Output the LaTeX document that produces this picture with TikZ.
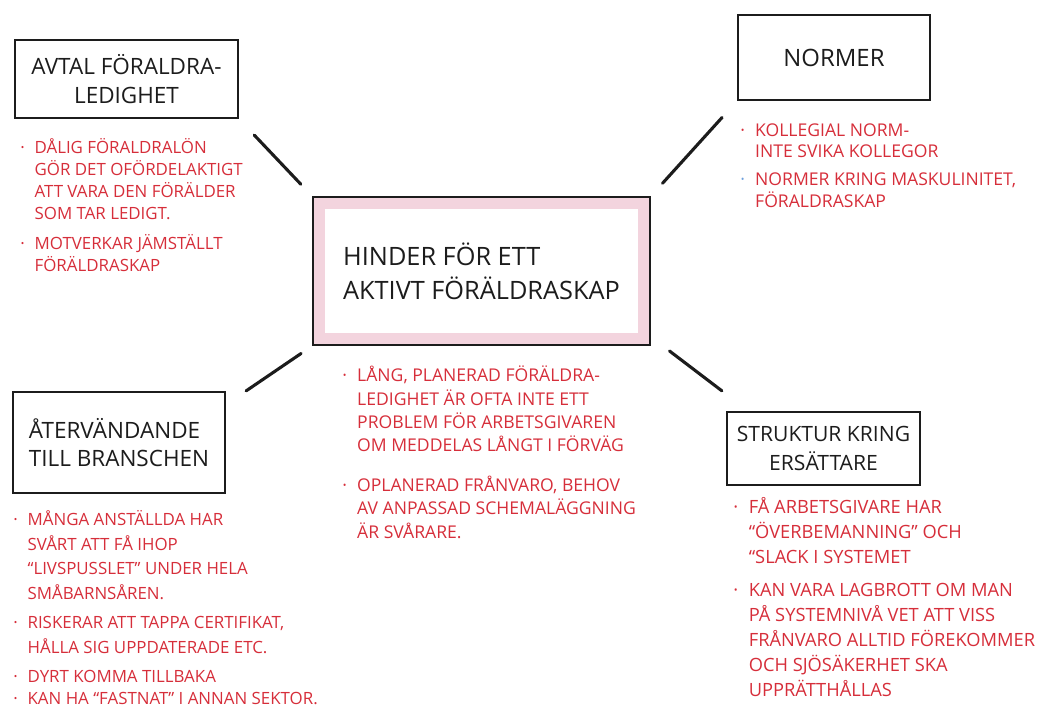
\documentclass[tikz,border=0pt]{standalone}
\usepackage{fontspec}
\setmainfont{Open Sans}
\newdimen\pxu \pxu=0.025cm
\definecolor{ink}{RGB}{28,28,28}
\definecolor{inkred}{RGB}{214,46,58}
\definecolor{pinkband}{RGB}{243,212,222}
\definecolor{dotblue}{RGB}{110,160,220}
\newcommand{\bul}{\makebox[0.85em][l]{·}}
\newcommand{\bluebul}{\makebox[0.85em][l]{\textcolor{dotblue}{·}}}
\newcommand{\ind}{\hspace*{0.85em}}
\tikzset{
  titlebox/.style={draw=ink, line width=1.6pt, text=ink, inner sep=0pt, font=\fontsize{15}{20}\selectfont},
  notes/.style={text=inkred, anchor=north west, align=left, inner sep=0pt},
  link/.style={draw=ink, line width=2.2pt, line cap=round}
}
\begin{document}
\begin{tikzpicture}[x=0.025cm, y=-0.025cm]
    \useasboundingbox (0,0) rectangle (1058,713);

    %hinder
    \node[titlebox, fill=white, minimum width=337\pxu, minimum height=148\pxu, align=left, font=\fontsize{18}{24}\selectfont,
        path picture={\draw[pinkband, line width=24\pxu] (path picture bounding box.south west) rectangle (path picture bounding box.north east);}]
        (hinder) at (481.5,271) {HINDER FÖR ETT\\AKTIVT FÖRÄLDRASKAP};

    %boxes
    \node[titlebox, minimum width=223\pxu, minimum height=78\pxu, align=center, font=\fontsize{16}{20}\selectfont] (avtal) at (126.5,79) {AVTAL FÖRALDRA-\\LEDIGHET};
    \node[titlebox, minimum width=192\pxu, minimum height=85\pxu, font=\fontsize{17}{20}\selectfont] (normer) at (834,57.5) {NORMER};
    \node[titlebox, minimum width=212\pxu, minimum height=101\pxu, align=left, font=\fontsize{16}{20}\selectfont] (ater) at (119,442.5) {ÅTERVÄNDANDE\\TILL BRANSCHEN};
    \node[titlebox, minimum width=193\pxu, minimum height=73\pxu, align=center] (struktur) at (823.5,448.5) {STRUKTUR KRING\\ERSÄTTARE};

    %links
    \draw[link, shorten <=16\pxu, shorten >=22\pxu] (hinder.north west) -- (avtal.south east);
    \draw[link, shorten <=17\pxu, shorten >=22\pxu] (hinder.north east) -- (normer.south west);
    \draw[link, shorten <=13\pxu] (hinder.south west) -- ([xshift=20\pxu]ater.north east);
    \draw[link, shorten <=8\pxu, shorten >=5\pxu] ([xshift=12\pxu]hinder.south east) -- ([yshift=17\pxu]struktur.north west);

    %notes
    \node[notes, font=\fontsize{12}{15.6}\selectfont] (avtalnotes) at (20,138)
        {\bul DÅLIG FÖRALDRALÖN\\ \ind GÖR DET OFÖRDELAKTIGT\\ \ind ATT VARA DEN FÖRÄLDER\\ \ind SOM TAR LEDIGT.\\[6pt]
         \bul MOTVERKAR JÄMSTÄLLT\\ \ind FÖRÄLDRASKAP};
    \node[notes, font=\fontsize{12.5}{15.6}\selectfont] (normernotes) at (740,123)
        {\bul KOLLEGIAL NORM-\\ \ind INTE SVIKA KOLLEGOR\\[4pt]
         \bluebul NORMER KRING MASKULINITET,\\ \ind FÖRALDRASKAP};
    \node[notes, font=\fontsize{12.5}{16.5}\selectfont] (hindernotes) at (342,366)
        {\bul LÅNG, PLANERAD FÖRÄLDRA-\\ \ind LEDIGHET ÄR OFTA INTE ETT\\ \ind PROBLEM FÖR ARBETSGIVAREN\\ \ind OM MEDDELAS LÅNGT I FÖRVÄG\\[12pt]
         \bul OPLANERAD FRÅNVARO, BEHOV\\ \ind AV ANPASSAD SCHEMALÄGGNING\\ \ind ÄR SVÅRARE.};
    \node[notes, font=\fontsize{12}{17.6}\selectfont] (aternotes) at (13,510)
        {\bul MÅNGA ANSTÄLLDA HAR\\ \ind SVÅRT ATT FÅ IHOP\\ \ind “LIVSPUSSLET” UNDER HELA\\ \ind SMÅBARNSÅREN.\\[3pt]
         \bul RISKERAR ATT TAPPA CERTIFIKAT,\\ \ind HÅLLA SIG UPPDATERADE ETC.\\[3pt]
         \bul DYRT KOMMA TILLBAKA\\[-2pt]
         \bul KAN HA “FASTNAT” I ANNAN SEKTOR.};
    \node[notes, font=\fontsize{13}{17.7}\selectfont] (strukturnotes) at (733,497)
        {\bul FÅ ARBETSGIVARE HAR\\ \ind “ÖVERBEMANNING” OCH\\ \ind “SLACK I SYSTEMET\\[6pt]
         \bul KAN VARA LAGBROTT OM MAN\\ \ind PÅ SYSTEMNIVÅ VET ATT VISS\\ \ind FRÅNVARO ALLTID FÖREKOMMER\\ \ind OCH SJÖSÄKERHET SKA\\ \ind UPPRÄTTHÅLLAS};
\end{tikzpicture}
\end{document}
